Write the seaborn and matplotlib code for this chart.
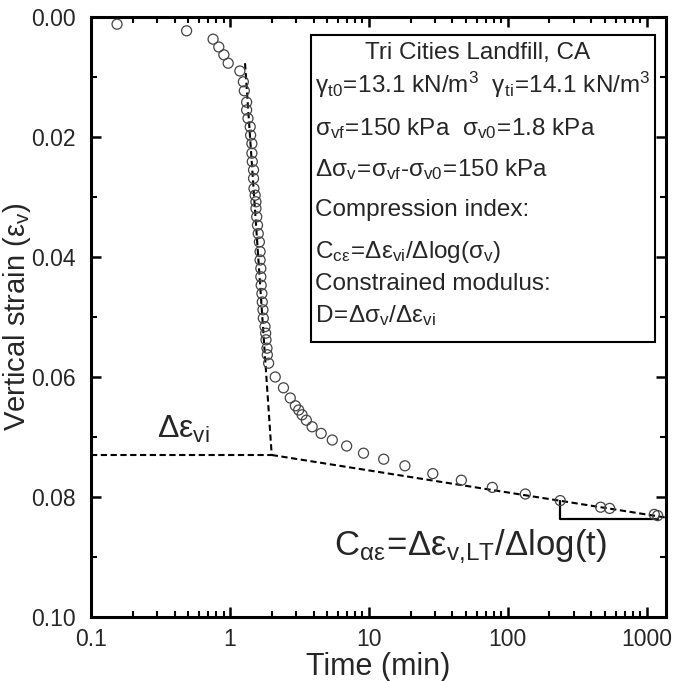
import numpy as np
import pandas as pd
import matplotlib
matplotlib.use("Agg")
import matplotlib.pyplot as plt
from matplotlib.ticker import FixedLocator, FixedFormatter, LogLocator, NullFormatter, MultipleLocator, FormatStrFormatter
from matplotlib.patches import Rectangle
import seaborn as sns

# ---- measured settlement curve ----
time_min = [0.154, 0.488, 0.757, 0.832, 0.905, 0.972, 1.18, 1.25, 1.27, 1.32,
            1.32, 1.35, 1.40, 1.41, 1.44, 1.44, 1.45, 1.48, 1.48, 1.49,
            1.52, 1.54, 1.54, 1.56, 1.58, 1.60, 1.63, 1.65, 1.65, 1.67,
            1.67, 1.68, 1.70, 1.71, 1.73, 1.74, 1.79, 1.81, 1.82, 1.85,
            1.86, 1.90, 2.12, 2.43, 2.72, 2.96, 3.13, 3.31, 3.55, 3.91,
            4.54, 5.46, 6.93, 9.16, 12.8, 18.2, 28.9, 46.4, 77.5, 134,
            239, 467, 542, 1137, 1201]
strain = [0.0012, 0.0023, 0.0037, 0.0050, 0.0063, 0.0077, 0.0090, 0.0108, 0.0123, 0.0142,
          0.0155, 0.0169, 0.0183, 0.0197, 0.0211, 0.0227, 0.0241, 0.0255, 0.0269, 0.0286,
          0.0297, 0.0308, 0.0319, 0.0333, 0.0347, 0.0361, 0.0375, 0.0391, 0.0405, 0.0419,
          0.0433, 0.0447, 0.0461, 0.0475, 0.0488, 0.0502, 0.0516, 0.0527, 0.0538, 0.0552,
          0.0563, 0.0577, 0.0600, 0.0618, 0.0635, 0.0648, 0.0655, 0.0663, 0.0672, 0.0683,
          0.0694, 0.0705, 0.0715, 0.0727, 0.0737, 0.0748, 0.0761, 0.0772, 0.0784, 0.0795,
          0.0806, 0.0817, 0.0819, 0.0829, 0.0831]

# ---- construction lines ----
primary_t = [1.285, 2.0]          # tangent to the primary compression branch
primary_e = [0.0077, 0.0730]
plateau_t = [0.1, 2.0]            # end of primary compression (delta eps_vi)
plateau_e = [0.0730, 0.0730]
secondary_t = [2.0, 1355]         # long-term (secondary) compression line
secondary_e = [0.0730, 0.0834]
slope_t = [239, 239, 1201]        # slope triangle for C_alpha
slope_e = [0.0806, 0.0836, 0.0836]

x_ticks = [0.1, 1, 10, 100, 1000]
x_ticklabels = ["0.1", "1", "10", "100", "1000"]
y_ticks = [0.00, 0.02, 0.04, 0.06, 0.08, 0.10]

info_lines = [
    "Tri Cities Landfill, CA",
    r"$\mathregular{γ_{t0}\!=\!13.1\ kN/m^3\ \ γ_{ti}\!=\!14.1\ kN/m^3}$",
    r"$\mathregular{σ_{vf}\!=\!150\ kPa\ \ σ_{v0}\!=\!1.8\ kPa}$",
    r"$\mathregular{Δσ_v\!=\!σ_{vf}‐σ_{v0}\!=\!150\ kPa}$",
    "Compression index:",
    r"$\mathregular{C_{cε}\!=\!Δε_{vi}/Δlog(σ_v)}$",
    "Constrained modulus:",
    r"$\mathregular{D\!=\!Δσ_v/Δε_{vi}}$",
]

sns.set_theme(style="white")
plt.rcParams["font.family"] = ["Liberation Sans", "DejaVu Sans"]
plt.rcParams["mathtext.fontset"] = "custom"
plt.rcParams["mathtext.rm"] = "Liberation Sans"
plt.rcParams["mathtext.it"] = "Liberation Sans:italic"

W, H = 674, 681
fig = plt.figure(figsize=(W / 100, H / 100), dpi=100)
fig.patch.set_facecolor("white")
L, R, T, B = 91, 666, 17, 617
ax = fig.add_axes([L / W, 1 - B / H, (R - L) / W, (B - T) / H])
ax.set_facecolor("white")

df = pd.DataFrame({"time": time_min, "strain": strain})
sns.scatterplot(data=df, x="time", y="strain", ax=ax, marker="o", s=52,
                facecolor="none", edgecolor="#444444", linewidth=0.9, zorder=3)

dash = dict(color="black", lw=1.5, dashes=(3, 1.7), zorder=2)
ax.plot(primary_t, primary_e, **dash)
ax.plot(plateau_t, plateau_e, **dash)
ax.plot(secondary_t, secondary_e, **dash)
ax.plot(slope_t, slope_e, color="black", lw=1.6, zorder=2)

ax.set_xscale("log")
ax.set_xlim(0.1, 1380)
ax.set_ylim(0.10, 0.0)

ax.xaxis.set_major_locator(FixedLocator(x_ticks))
ax.xaxis.set_major_formatter(FixedFormatter(x_ticklabels))
ax.xaxis.set_minor_locator(LogLocator(base=10, subs=np.arange(2, 10)))
ax.xaxis.set_minor_formatter(NullFormatter())
ax.yaxis.set_major_locator(FixedLocator(y_ticks))
ax.yaxis.set_major_formatter(FormatStrFormatter("%.2f"))
ax.yaxis.set_minor_locator(MultipleLocator(0.01))

ax.tick_params(which="both", direction="in", top=True, right=True,
               bottom=True, left=True, color="black")
ax.tick_params(which="major", length=7.5, width=1.8, labelsize=16.5)
ax.tick_params(axis="x", which="major", pad=8)
ax.tick_params(axis="y", which="major", pad=11)
ax.tick_params(which="minor", length=4.5, width=1.5)
for s in ax.spines.values():
    s.set_linewidth(2.2)
    s.set_color("black")

ax.set_xlabel("Time (min)", fontsize=22, labelpad=1)
ax.set_ylabel(r"Vertical strain ($\mathregular{ε_v}$)", fontsize=21)
ax.yaxis.set_label_coords((33 - L) / (R - L), 0.5)

# information box
bx0 = (311 - L) / (R - L)
bx1 = (655 - L) / (R - L)
by0 = 1 - (342 - T) / (B - T)
by1 = 1 - (35 - T) / (B - T)
ax.add_patch(Rectangle((bx0, by0), bx1 - bx0, by1 - by0, transform=ax.transAxes,
                       fill=False, edgecolor="black", lw=1.5, zorder=4))
baselines = [59.3, 93.3, 135, 175.7, 216, 258.3, 290, 321.7]
tx = (315 - L) / (R - L)
for i, (txt, yb) in enumerate(zip(info_lines, baselines)):
    yy = 1 - (yb - T) / (B - T)
    if i == 0:
        ax.text((478 - L) / (R - L), yy, txt, transform=ax.transAxes, ha="center",
                va="baseline", fontsize=17.5, zorder=5)
    else:
        ax.text(tx, yy, txt, transform=ax.transAxes, ha="left",
                va="baseline", fontsize=17.5, zorder=5)

ax.text((157 - L) / (R - L), 1 - (438 - T) / (B - T), r"$\mathregular{Δε_{vi}}$",
        transform=ax.transAxes, ha="left", va="baseline", fontsize=23)
ax.text((607 - L) / (R - L), 1 - (555 - T) / (B - T),
        r"$\mathregular{C_{αε}\!=\!Δε_{v{,}LT}/Δlog(t)}$",
        transform=ax.transAxes, ha="right", va="baseline", fontsize=25)

fig.savefig("out.png", dpi=100, facecolor="white")
